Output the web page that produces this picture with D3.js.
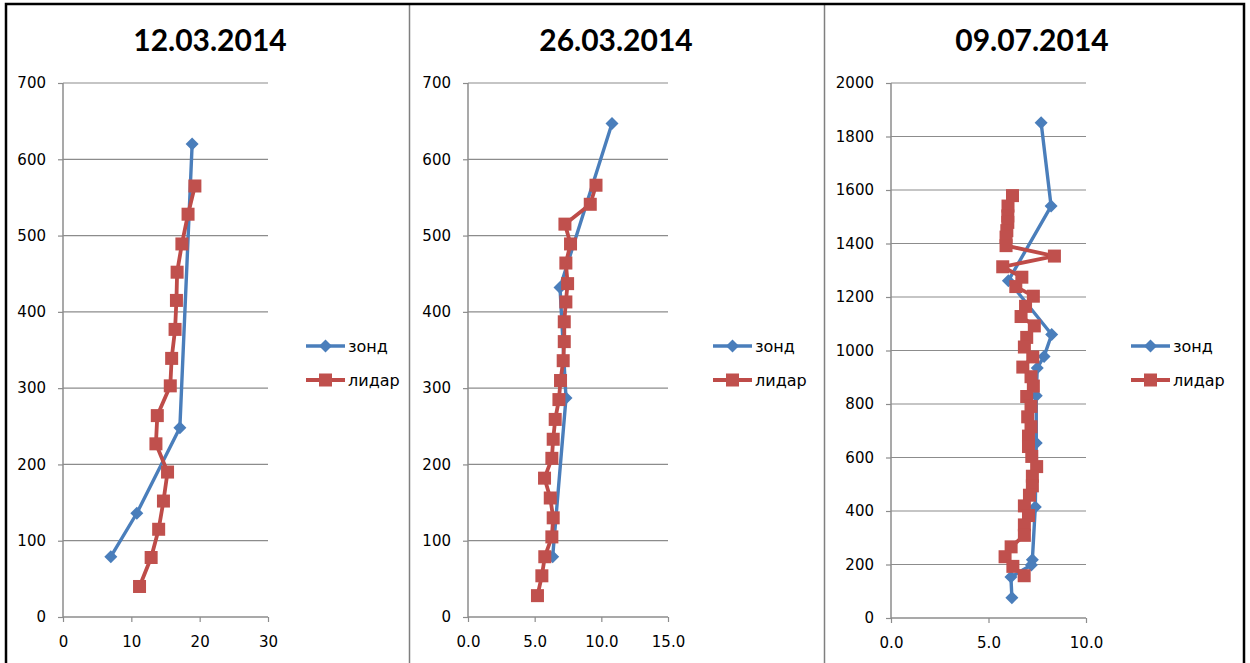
<!DOCTYPE html>
<html>
<head>
<meta charset="utf-8">
<script src="https://cdn.jsdelivr.net/npm/d3@7"></script>
<style>
  body { margin: 0; background: #fff; }
  svg { display: block; }
</style>
</head>
<body>
<div id="chart"></div>
<script>
// Titles and legend labels
const titles = ["12.03.2014", "26.03.2014", "09.07.2014"];
const seriesNames = ["зонд", "лидар"];

// Tick labels for each panel
const xTicks1 = [0, 10, 20, 30];
const xTicks2 = [0, 5, 10, 15];
const xTicks3 = [0, 5, 10];
const yTicks1 = [0, 100, 200, 300, 400, 500, 600, 700];
const yTicks2 = [0, 100, 200, 300, 400, 500, 600, 700];
const yTicks3 = [0, 200, 400, 600, 800, 1000, 1200, 1400, 1600, 1800, 2000];

// [value, height] pairs
const zond1 = [[18.9, 620], [17.1, 248], [10.8, 136], [7.0, 79]];
const lidar1 = [[19.3, 565], [18.3, 528], [17.4, 489], [16.7, 452], [16.6, 415], [16.4, 377],
  [15.9, 339], [15.7, 303], [13.8, 264], [13.6, 227], [15.3, 190], [14.7, 152], [14.0, 115],
  [12.9, 78], [11.2, 40]];

const zond2 = [[10.8, 647], [6.9, 432], [7.35, 287], [6.35, 79]];
const lidar2 = [[9.6, 566], [9.17, 541], [7.27, 515], [7.69, 489], [7.34, 464], [7.47, 437],
  [7.34, 413], [7.22, 387], [7.22, 361], [7.14, 336], [6.94, 310], [6.82, 285], [6.54, 259],
  [6.39, 233], [6.29, 208], [5.74, 182], [6.17, 156], [6.39, 130], [6.29, 105], [5.76, 79],
  [5.54, 54], [5.21, 28]];

const zond3 = [[7.7, 1851], [8.21, 1540], [6.02, 1261], [8.24, 1060], [7.85, 978], [7.5, 935],
  [7.45, 831], [7.45, 654], [7.4, 415], [7.25, 218], [7.2, 198], [6.15, 153], [6.2, 76]];
const lidar3 = [[6.23, 1579], [6.0, 1540], [5.99, 1503], [5.99, 1479], [5.94, 1448], [5.9, 1424],
  [5.9, 1392], [8.38, 1353], [5.73, 1313], [6.71, 1274], [6.4, 1239], [7.3, 1203], [6.9, 1165],
  [6.67, 1127], [7.35, 1092], [6.96, 1049], [6.84, 1013], [7.27, 976], [6.76, 938], [7.18, 902],
  [7.3, 867], [6.96, 828], [7.18, 791], [7.01, 752], [7.18, 715], [7.05, 680], [7.05, 641],
  [7.22, 604], [7.47, 566], [7.25, 530], [7.25, 494], [7.1, 459], [6.84, 419], [7.05, 383],
  [6.84, 348], [6.84, 309], [6.16, 266], [5.85, 229], [6.25, 193], [6.83, 158]];

const width = 1250, height = 663;
const blue = "#4a7ebb", red = "#be4b48";
const gridColor = "#8c8c8c";

const svg = d3.select("#chart").append("svg")
  .attr("width", width)
  .attr("height", height);

// panel geometry (pixels)
const panels = [
  {title: titles[0], cx: 210, x0: 63, x1: 268, y0: 617, y1: 83, xDom: [0, 30], yDom: [0, 700],
   xTicks: xTicks1, yTicks: yTicks1, xFmt: d3.format("d"), zond: zond1, lidar: lidar1, legX: 306},
  {title: titles[1], cx: 616, x0: 468, x1: 668, y0: 617, y1: 83, xDom: [0, 15], yDom: [0, 700],
   xTicks: xTicks2, yTicks: yTicks2, xFmt: d3.format(".1f"), zond: zond2, lidar: lidar2, legX: 713},
  {title: titles[2], cx: 1032, x0: 891, x1: 1086, y0: 618, y1: 83, xDom: [0, 10], yDom: [0, 2000],
   xTicks: xTicks3, yTicks: yTicks3, xFmt: d3.format(".1f"), zond: zond3, lidar: lidar3, legX: 1131}
];

const diamond = "M0,-6.5L6.5,0L0,6.5L-6.5,0Z";

panels.forEach(p => {
  const x = d3.scaleLinear().domain(p.xDom).range([p.x0, p.x1]);
  const y = d3.scaleLinear().domain(p.yDom).range([p.y0, p.y1]);
  const g = svg.append("g");

  // title
  g.append("text")
    .attr("x", p.cx).attr("y", 51)
    .attr("text-anchor", "middle")
    .style("font-family", "Lato, 'Open Sans', sans-serif")
    .style("font-weight", "bold")
    .style("font-size", "30px")
    .attr("fill", "#000")
    .text(p.title);

  // gridlines
  g.selectAll(".grid")
    .data(p.yTicks.slice(1))
    .enter().append("line")
    .attr("x1", p.x0).attr("x2", p.x1)
    .attr("y1", d => y(d)).attr("y2", d => y(d))
    .attr("stroke", gridColor)
    .attr("stroke-width", 1.2);

  // y axis
  const yAxis = g.append("g")
    .attr("transform", `translate(${p.x0},0)`)
    .call(d3.axisLeft(y).tickValues(p.yTicks).tickSize(5).tickPadding(12).tickFormat(d3.format("d")));
  // x axis
  const xAxis = g.append("g")
    .attr("transform", `translate(0,${p.y0})`)
    .call(d3.axisBottom(x).tickValues(p.xTicks).tickSize(5).tickPadding(14).tickFormat(p.xFmt));

  [yAxis, xAxis].forEach(a => {
    a.select(".domain").attr("stroke", gridColor).attr("stroke-width", 1.5);
    a.selectAll(".tick line").attr("stroke", gridColor).attr("stroke-width", 1.2);
    a.selectAll("text")
      .style("font-family", "'DejaVu Sans', Verdana, sans-serif")
      .style("font-size", "15px")
      .attr("fill", "#000");
  });
  yAxis.select(".domain").attr("d", `M0,${p.y0}V${p.y1}`);
  xAxis.select(".domain").attr("d", `M${p.x0},0H${p.x1}`);

  const line = d3.line().x(d => x(d[0])).y(d => y(d[1]));

  // зонд
  g.append("path")
    .datum(p.zond)
    .attr("d", line)
    .attr("fill", "none")
    .attr("stroke", blue)
    .attr("stroke-width", 3.4)
    .attr("stroke-linejoin", "round");
  g.selectAll(".zm")
    .data(p.zond)
    .enter().append("path")
    .attr("d", diamond)
    .attr("transform", d => `translate(${x(d[0])},${y(d[1])})`)
    .attr("fill", blue);

  // лидар
  g.append("path")
    .datum(p.lidar)
    .attr("d", line)
    .attr("fill", "none")
    .attr("stroke", red)
    .attr("stroke-width", 3.8)
    .attr("stroke-linejoin", "round");
  g.selectAll(".lm")
    .data(p.lidar)
    .enter().append("rect")
    .attr("x", d => x(d[0]) - 6.5)
    .attr("y", d => y(d[1]) - 6.5)
    .attr("width", 13).attr("height", 13)
    .attr("fill", "#c0504d");

  // legend
  const leg = g.append("g").attr("transform", `translate(${p.legX},346)`);
  leg.append("line").attr("x1", 0).attr("x2", 39).attr("y1", 0).attr("y2", 0)
    .attr("stroke", blue).attr("stroke-width", 3.4);
  leg.append("path").attr("d", diamond).attr("transform", "translate(19.5,0)").attr("fill", blue);
  leg.append("line").attr("x1", 0).attr("x2", 39).attr("y1", 34).attr("y2", 34)
    .attr("stroke", red).attr("stroke-width", 3.8);
  leg.append("rect").attr("x", 13).attr("y", 27.5).attr("width", 13).attr("height", 13)
    .attr("fill", "#c0504d");
  leg.selectAll("text")
    .data(seriesNames)
    .enter().append("text")
    .attr("x", 42)
    .attr("y", (d, i) => i * 34 + 6)
    .style("font-family", "'DejaVu Sans', Verdana, sans-serif")
    .style("font-size", "16px")
    .attr("fill", "#000")
    .text(d => d);
});

// frame and separators
svg.append("line").attr("x1", 409.5).attr("x2", 409.5).attr("y1", 4).attr("y2", height)
  .attr("stroke", "#7f7f7f").attr("stroke-width", 1.5);
svg.append("line").attr("x1", 824.5).attr("x2", 824.5).attr("y1", 4).attr("y2", height)
  .attr("stroke", "#7f7f7f").attr("stroke-width", 1.5);
svg.append("path")
  .attr("d", `M6,${height}V4H1244V${height}`)
  .attr("fill", "none")
  .attr("stroke", "#000")
  .attr("stroke-width", 2.5);
</script>
</body>
</html>
